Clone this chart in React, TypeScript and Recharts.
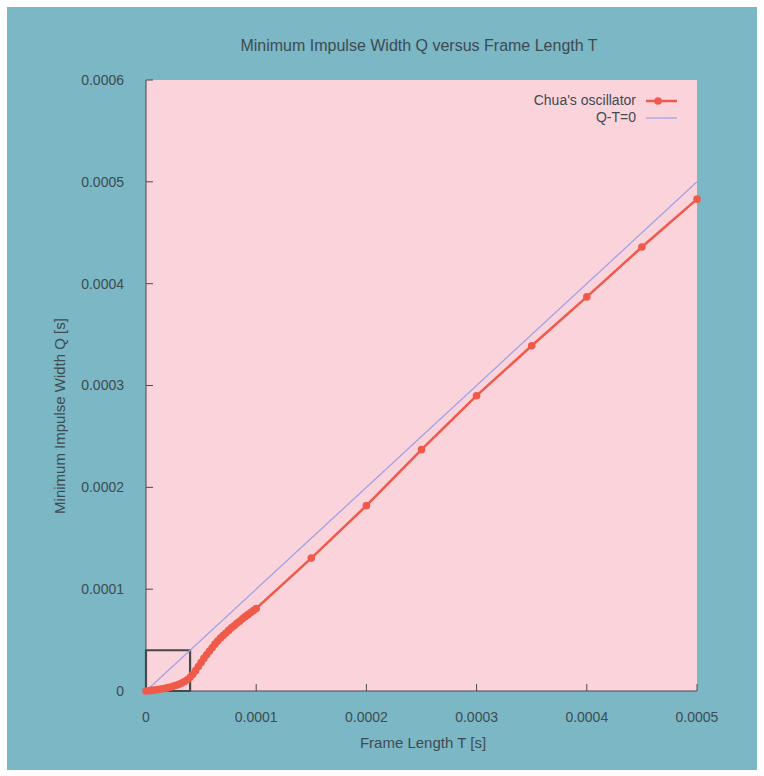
import { LineChart, Line, XAxis, YAxis, ReferenceArea, CartesianGrid } from "recharts";

// Frame length T and minimum impulse width Q for Chua's oscillator, in microseconds
const frameLengthUs = [
  0, 2.5, 5, 7.5, 10, 12.5, 15, 17.5, 20, 22.5, 25, 27.5, 30, 32.5, 35, 37.5, 40,
  42.5, 45, 47.5, 50, 52.5, 55, 57.5, 60, 62.5, 65, 67.5, 70, 72.5, 75, 77.5, 80,
  82.5, 85, 87.5, 90, 92.5, 95, 97.5, 100, 150, 200, 250, 300, 350, 400, 450, 500,
];
const impulseWidthUs = [
  0, 0.3, 0.6, 0.9, 1.3, 1.7, 2.2, 2.7, 3.3, 4.0, 4.8, 5.7, 6.7, 7.9, 9.3, 11.0, 13.5,
  16.5, 20, 24, 28, 32, 35.5, 39, 42.5, 46, 49, 52, 54.5, 57, 59.5, 62, 64,
  66.5, 68.5, 71, 73, 75, 77, 79, 81, 130.5, 182, 237, 290, 339, 387, 436, 483,
];

// Q - T = 0 reference diagonal
const diagonalT = [0, 0.0005];
const diagonalQ = [0, 0.0005];

const xTicks = [0, 0.0001, 0.0002, 0.0003, 0.0004, 0.0005];
const yTicks = [0, 0.0001, 0.0002, 0.0003, 0.0004, 0.0005, 0.0006];

// corner region that is magnified elsewhere
const zoomBoxT = 0.00004;
const zoomBoxQ = 0.00004;

const chuaData = frameLengthUs.map((t, i) => ({ t: t * 1e-6, q: impulseWidthUs[i] * 1e-6 }));
const diagonalData = diagonalT.map((t, i) => ({ t, q: diagonalQ[i] }));

const RED = "#ef5a4a";
const BLUE = "#9ea3e6";
const AXIS = "#4a4a4a";
const TEXT = "#3f4b52";
const FONT = "'Liberation Sans', Arial, sans-serif";

const fmt = (v: number) => (v === 0 ? "0" : v.toFixed(4));
const blank = () => "";

export default function App() {
  const tickStyle = { fontSize: 14, fill: TEXT, fontFamily: FONT };
  return (
    <div style={{ position: "absolute", left: 0, top: 0, width: 764, height: 776, background: "#fff", fontFamily: FONT }}>
      <div style={{ position: "absolute", left: 7, top: 7, width: 750, height: 763, background: "#7bb7c4" }}>
        <LineChart
          width={750}
          height={763}
          margin={{ top: 73, right: 60, left: 69, bottom: 39 }}
        >
          <CartesianGrid fill="#fbd3db" horizontal={false} vertical={false} />
          <XAxis
            xAxisId="bottom"
            dataKey="t"
            type="number"
            domain={[0, 0.0005]}
            ticks={xTicks}
            tickFormatter={fmt}
            height={40}
            stroke={AXIS}
            tickSize={-7}
            tickMargin={28}
            tick={tickStyle}
          />
          <XAxis
            xAxisId="top"
            orientation="top"
            dataKey="t"
            type="number"
            domain={[0, 0.0005]}
            ticks={xTicks}
            tickFormatter={blank}
            height={0}
            stroke={AXIS}
            tickSize={-7}
          />
          <YAxis
            yAxisId="left"
            type="number"
            domain={[0, 0.0006]}
            ticks={yTicks}
            tickFormatter={fmt}
            width={70}
            stroke={AXIS}
            tickSize={-7}
            tickMargin={29}
            tick={tickStyle}
          />
          <YAxis
            yAxisId="right"
            orientation="right"
            type="number"
            domain={[0, 0.0006]}
            ticks={yTicks}
            tickFormatter={blank}
            width={0}
            stroke={AXIS}
            tickSize={-7}
          />
          <Line
            xAxisId="bottom"
            yAxisId="left"
            data={diagonalData}
            dataKey="q"
            stroke={BLUE}
            strokeWidth={1.3}
            dot={false}
            isAnimationActive={false}
          />
          <Line
            xAxisId="bottom"
            yAxisId="left"
            data={chuaData}
            dataKey="q"
            stroke={RED}
            strokeWidth={2.5}
            dot={{ r: 3.8, fill: RED, stroke: "none" }}
            isAnimationActive={false}
          />
          <ReferenceArea
            xAxisId="bottom"
            yAxisId="left"
            x1={0}
            x2={zoomBoxT}
            y1={0}
            y2={zoomBoxQ}
            fill="none"
            stroke="#474747"
            strokeWidth={2.2}
            ifOverflow="visible"
          />
        </LineChart>
      </div>

      <div style={{ position: "absolute", left: 119, top: 37, width: 600, textAlign: "center", fontSize: 16, lineHeight: "18px", color: TEXT }}>
        Minimum Impulse Width Q versus Frame Length T
      </div>
      <div style={{ position: "absolute", left: 273, top: 734, width: 300, textAlign: "center", fontSize: 15, lineHeight: "18px", color: TEXT }}>
        Frame Length T [s]
      </div>
      <div
        style={{
          position: "absolute",
          left: 60 - 150,
          top: 416 - 9,
          width: 300,
          textAlign: "center",
          fontSize: 15,
          lineHeight: "18px",
          color: TEXT,
          transform: "rotate(-90deg)",
        }}
      >
        Minimum Impulse Width Q [s]
      </div>

      {/* key */}
      <svg style={{ position: "absolute", left: 440, top: 90 }} width={250} height={40}>
        <text x={196} y={15} textAnchor="end" fontSize={14} fill={TEXT} fontFamily={FONT}>
          Chua's oscillator
        </text>
        <line x1={206} y1={11} x2={237} y2={11} stroke={RED} strokeWidth={2.5} />
        <circle cx={218} cy={11} r={3.8} fill={RED} />
        <text x={196} y={32} textAnchor="end" fontSize={14} fill={TEXT} fontFamily={FONT}>
          Q-T=0
        </text>
        <line x1={206} y1={28} x2={237} y2={28} stroke={BLUE} strokeWidth={1.3} />
      </svg>
    </div>
  );
}
